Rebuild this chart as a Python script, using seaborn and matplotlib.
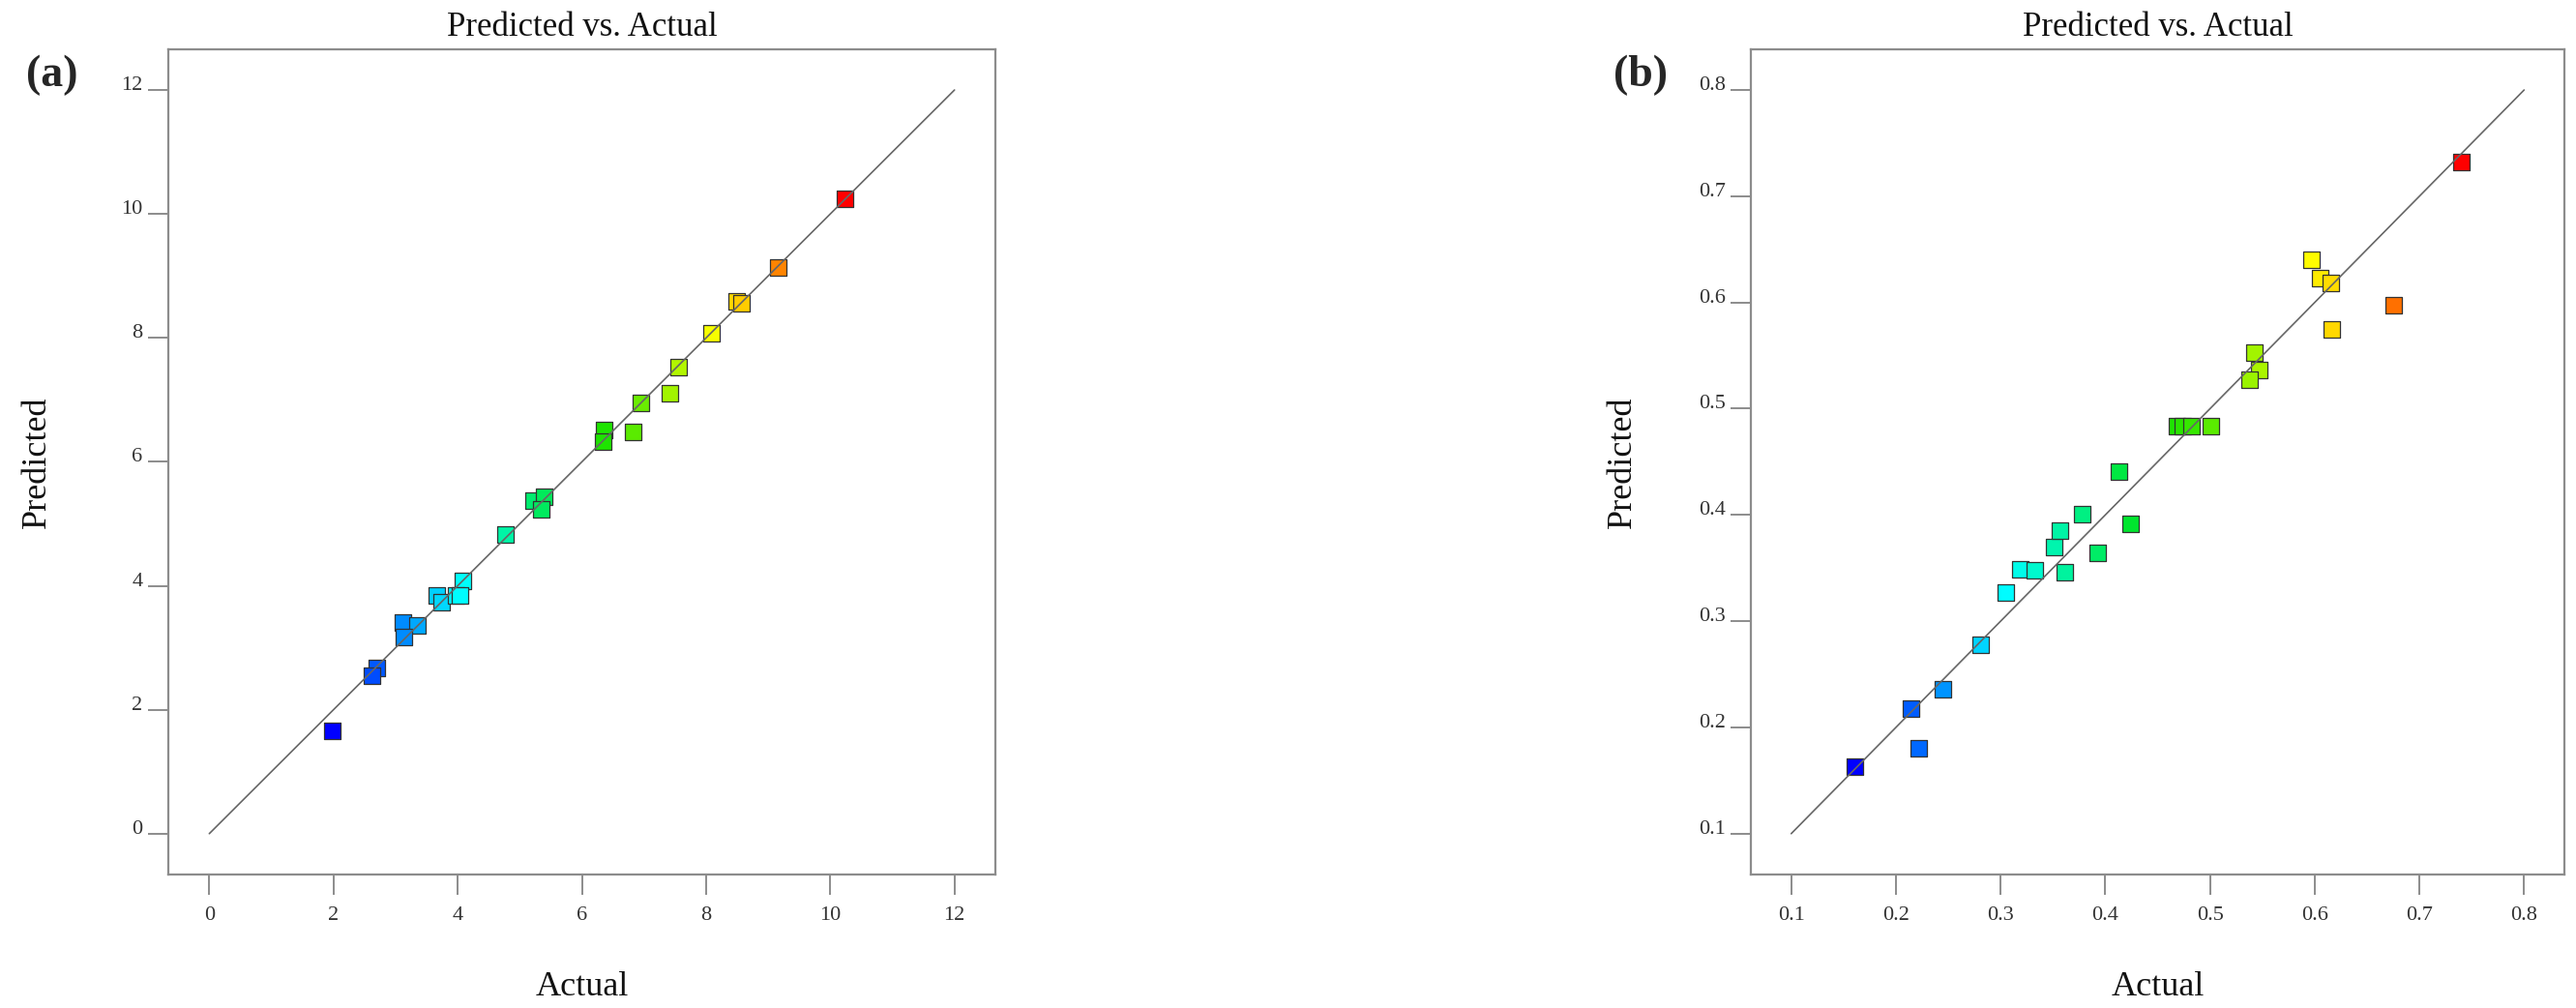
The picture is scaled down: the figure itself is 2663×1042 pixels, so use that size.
"""Predicted vs. actual parity plots for two responses, (a) and (b)."""

import matplotlib
matplotlib.use("Agg")
import matplotlib.pyplot as plt
import pandas as pd
import seaborn as sns
from matplotlib.colors import LinearSegmentedColormap

# panel (a): actual / predicted values
actual_a = [10.24, 9.16, 8.49, 8.57, 8.09, 7.56, 7.41, 6.95, 6.82, 6.35, 6.34,
            5.22, 5.39, 5.34, 4.77, 4.09, 3.66, 3.74, 3.97, 4.03, 3.11, 3.35,
            3.13, 2.69, 2.62, 1.98]
predicted_a = [10.24, 9.14, 8.59, 8.56, 8.07, 7.53, 7.11, 6.95, 6.48, 6.51, 6.32,
               5.38, 5.44, 5.24, 4.83, 4.08, 3.84, 3.73, 3.84, 3.84, 3.40, 3.36,
               3.17, 2.67, 2.55, 1.665]
ticks_a = [0, 2, 4, 6, 8, 10, 12]
diag_a = [0, 12]

# panel (b)
actual_b = [0.161, 0.214, 0.222, 0.245, 0.281, 0.305, 0.319, 0.333, 0.361,
            0.351, 0.357, 0.378, 0.393, 0.424, 0.413, 0.468, 0.474, 0.482,
            0.501, 0.542, 0.547, 0.538, 0.597, 0.605, 0.615, 0.616, 0.675, 0.740]
predicted_b = [0.163, 0.218, 0.180, 0.236, 0.278, 0.327, 0.349, 0.348, 0.346,
               0.370, 0.385, 0.401, 0.364, 0.392, 0.441, 0.484, 0.484, 0.484,
               0.484, 0.553, 0.536, 0.527, 0.640, 0.623, 0.618, 0.575, 0.597, 0.732]
ticks_b = [0.1, 0.2, 0.3, 0.4, 0.5, 0.6, 0.7, 0.8]
tick_labels_b = ["0.1", "0.2", "0.3", "0.4", "0.5", "0.6", "0.7", "0.8"]
diag_b = [0.1, 0.8]

RAINBOW = LinearSegmentedColormap.from_list(
    "design_rainbow", ["#0000ff", "#00ffff", "#00e000", "#ffff00", "#ff0000"]
)
SPINE_GREY = "#8c8c8c"


def draw_panel(ax, actual, predicted, diag, ticks, labels, lims):
    df = pd.DataFrame({"actual": actual, "predicted": predicted})
    sns.scatterplot(
        data=df, x="actual", y="predicted", hue="actual",
        palette=RAINBOW, hue_norm=(min(actual), max(actual)),
        marker="s", s=150, edgecolor="#333333", linewidth=0.9,
        legend=False, ax=ax, zorder=2,
    )
    sns.lineplot(x=diag, y=diag, color="#666666", linewidth=1.2, ax=ax, zorder=3)

    ax.set_xlim(lims)
    ax.set_ylim(lims)
    ax.set_xticks(ticks, labels=labels)
    ax.set_yticks(ticks, labels=labels, va="baseline")

    for spine in ax.spines.values():
        spine.set_color(SPINE_GREY)
        spine.set_linewidth(1.6)
    ax.tick_params(axis="both", direction="out", length=15, width=1.4,
                   bottom=True, left=True, top=False, right=False,
                   color=SPINE_GREY, labelsize=16, labelcolor="#333333")
    ax.tick_params(axis="x", pad=9)
    ax.tick_params(axis="y", pad=4)

    ax.set_title("Predicted vs. Actual", fontsize=25, color="#111111", pad=10)
    ax.set_xlabel("Actual", fontsize=26, color="#111111", va="center")
    ax.set_ylabel("Predicted", fontsize=26, color="#111111", va="center")
    ax.xaxis.set_label_coords(0.5, -0.137)
    ax.yaxis.set_label_coords(-0.158, 0.5)
    ax.grid(False)


def main() -> None:
    sns.set_theme(style="white")
    plt.rcParams["font.family"] = ["Liberation Serif", "DejaVu Serif"]

    fig = plt.figure(figsize=(26.63, 10.42), dpi=100)
    ax_a = fig.add_axes([0.06534, 0.1324, 0.3211, 0.8189])
    ax_b = fig.add_axes([0.6797, 0.1324, 0.3158, 0.8189])

    draw_panel(ax_a, actual_a, predicted_a, diag_a, ticks_a,
               [str(t) for t in ticks_a], (-0.66, 12.66))
    draw_panel(ax_b, actual_b, predicted_b, diag_b, ticks_b,
               tick_labels_b, (0.0615, 0.8385))

    fig.text(0.0203, 0.925, "(a)", fontsize=33, fontweight="bold",
             ha="center", va="center")
    fig.text(0.6369, 0.925, "(b)", fontsize=33, fontweight="bold",
             ha="center", va="center")

    fig.savefig("out.png", dpi=100)
    plt.close(fig)


if __name__ == "__main__":
    main()
